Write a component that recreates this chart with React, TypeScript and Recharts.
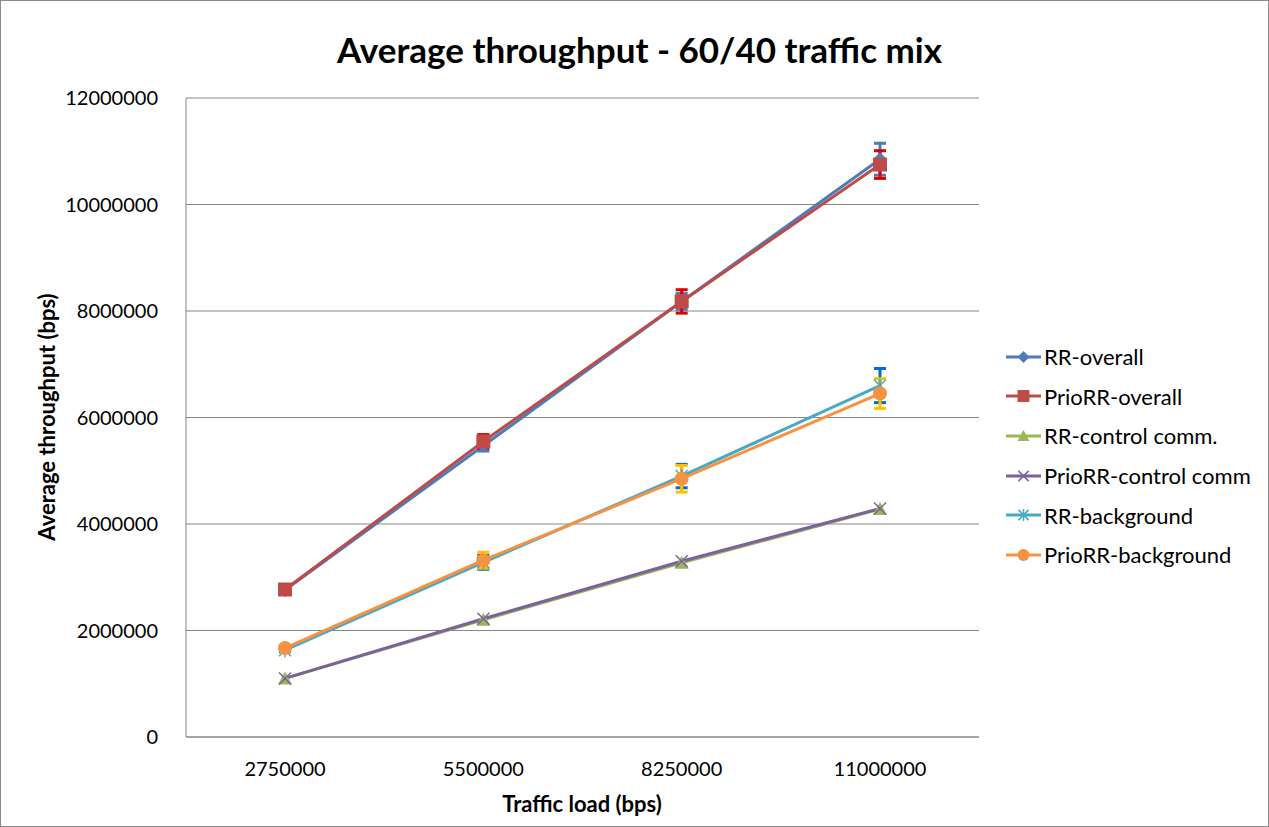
import React from "react";
import { LineChart, Line, XAxis, YAxis, CartesianGrid, ErrorBar } from "recharts";

const loads = ["2750000", "5500000", "8250000", "11000000"];
const rrOverall = [2760000, 5470000, 8180000, 10850000];
const prioOverall = [2770000, 5550000, 8180000, 10750000];
const rrControl = [1100000, 2200000, 3270000, 4280000];
const prioControl = [1100000, 2220000, 3300000, 4290000];
const rrBackground = [1630000, 3280000, 4900000, 6600000];
const prioBackground = [1670000, 3320000, 4850000, 6450000];

const rrOverallErr = [30000, 100000, 150000, 300000];
const prioOverallErr = [30000, 130000, 220000, 260000];
const rrBackgroundErr = [30000, 130000, 220000, 320000];
const prioBackgroundErr = [30000, 150000, 250000, 280000];

const yTicks = [0, 2000000, 4000000, 6000000, 8000000, 10000000, 12000000];

const series = [
  { key: "rrOverall", name: "RR-overall", color: "#4A7EBB", shape: "diamond", err: "rrOverallErr", errColor: "#4A7EBB" },
  { key: "prioOverall", name: "PrioRR-overall", color: "#BE4B48", shape: "square", err: "prioOverallErr", errColor: "#E00000" },
  { key: "rrControl", name: "RR-control comm.", color: "#98B954", shape: "triangle" },
  { key: "prioControl", name: "PrioRR-control comm", color: "#7D60A0", shape: "x" },
  { key: "rrBackground", name: "RR-background", color: "#46AAC5", shape: "star", err: "rrBackgroundErr", errColor: "#0070C0" },
  { key: "prioBackground", name: "PrioRR-background", color: "#F69240", shape: "circle", err: "prioBackgroundErr", errColor: "#FFC000" },
];

const data = loads.map((load, i) => ({
  load,
  rrOverall: rrOverall[i],
  prioOverall: prioOverall[i],
  rrControl: rrControl[i],
  prioControl: prioControl[i],
  rrBackground: rrBackground[i],
  prioBackground: prioBackground[i],
  rrOverallErr: rrOverallErr[i],
  prioOverallErr: prioOverallErr[i],
  rrBackgroundErr: rrBackgroundErr[i],
  prioBackgroundErr: prioBackgroundErr[i],
}));

const font = "Lato, 'Open Sans', sans-serif";

function Marker({ shape, color, cx, cy, s = 1 }: { shape: string; color: string; cx: number; cy: number; s?: number }) {
  if (cx == null || cy == null) return null;
  switch (shape) {
    case "diamond":
      return <polygon points={`${cx},${cy - 7 * s} ${cx + 7 * s},${cy} ${cx},${cy + 7 * s} ${cx - 7 * s},${cy}`} fill={color} />;
    case "square":
      return <rect x={cx - 7 * s} y={cy - 7 * s} width={14 * s} height={14 * s} fill={color} />;
    case "triangle":
      return <polygon points={`${cx},${cy - 7 * s} ${cx + 7 * s},${cy + 6 * s} ${cx - 7 * s},${cy + 6 * s}`} fill={color} />;
    case "x":
      return (
        <g stroke={color} strokeWidth={1.5}>
          <line x1={cx - 6 * s} y1={cy - 6 * s} x2={cx + 6 * s} y2={cy + 6 * s} />
          <line x1={cx - 6 * s} y1={cy + 6 * s} x2={cx + 6 * s} y2={cy - 6 * s} />
        </g>
      );
    case "star":
      return (
        <g stroke={color} strokeWidth={1.5}>
          <line x1={cx - 6 * s} y1={cy - 6 * s} x2={cx + 6 * s} y2={cy + 6 * s} />
          <line x1={cx - 6 * s} y1={cy + 6 * s} x2={cx + 6 * s} y2={cy - 6 * s} />
          <line x1={cx} y1={cy - 7 * s} x2={cx} y2={cy + 7 * s} />
        </g>
      );
    default:
      return <circle cx={cx} cy={cy} r={7 * s} fill={color} />;
  }
}

export default function App() {
  return (
    <div style={{ position: "absolute", left: 0, top: 0, width: 1267, height: 825, border: "1px solid #8a8a8a", background: "#fff", fontFamily: font }}>
      <div style={{ position: "absolute", left: 0, width: 1277, top: 27, textAlign: "center", fontSize: 35, fontWeight: 700 }}>
        Average throughput - 60/40 traffic mix
      </div>
      <div style={{ position: "absolute", left: 184, width: 794, top: 789, textAlign: "center", fontSize: 22, fontWeight: 700 }}>
        Traffic load (bps)
      </div>
      <div style={{ position: "absolute", left: 45, top: 416, transform: "translate(-50%, -50%) rotate(-90deg)", whiteSpace: "nowrap", fontSize: 22, fontWeight: 700 }}>
        Average throughput (bps)
      </div>
      <LineChart width={1269} height={827} data={data} margin={{ top: 97, right: 291, bottom: 0, left: 20 }}>
        <CartesianGrid vertical={false} stroke="#868686" strokeWidth={1} />
        <XAxis
          dataKey="load"
          padding={{ left: 99, right: 99 }}
          tickLine={false}
          axisLine={{ stroke: "#868686" }}
          tick={{ fontSize: 20, fill: "#000", fontFamily: font }}
          tickMargin={19}
          height={91}
        />
        <YAxis
          domain={[0, 12000000]}
          ticks={yTicks}
          interval={0}
          tickLine={false}
          axisLine={{ stroke: "#868686" }}
          tick={{ fontSize: 20, fill: "#000", fontFamily: font }}
          tickMargin={22}
          width={165}
        />
        {series.map((s) => (
          <Line
            key={s.key}
            dataKey={s.key}
            name={s.name}
            stroke={s.color}
            strokeWidth={3}
            isAnimationActive={false}
            dot={(p: any) => <Marker key={`${s.key}-${p.index}`} shape={s.shape} color={s.color} cx={p.cx} cy={p.cy} />}
            activeDot={false}
          >
            {s.err && <ErrorBar dataKey={s.err} direction="y" width={6} stroke={s.errColor} strokeWidth={3} />}
          </Line>
        ))}
      </LineChart>
      <div style={{ position: "absolute", left: 1004, top: 336 }}>
        {series.map((s) => (
          <div key={s.key} style={{ height: 39.6, display: "flex", alignItems: "center", fontSize: 22 }}>
            <svg width={37} height={20} style={{ marginRight: 2 }}>
              <line x1={1} y1={10} x2={36} y2={10} stroke={s.color} strokeWidth={3} />
              <Marker shape={s.shape} color={s.color} cx={18.5} cy={10} s={0.85} />
            </svg>
            <span>{s.name}</span>
          </div>
        ))}
      </div>
    </div>
  );
}
